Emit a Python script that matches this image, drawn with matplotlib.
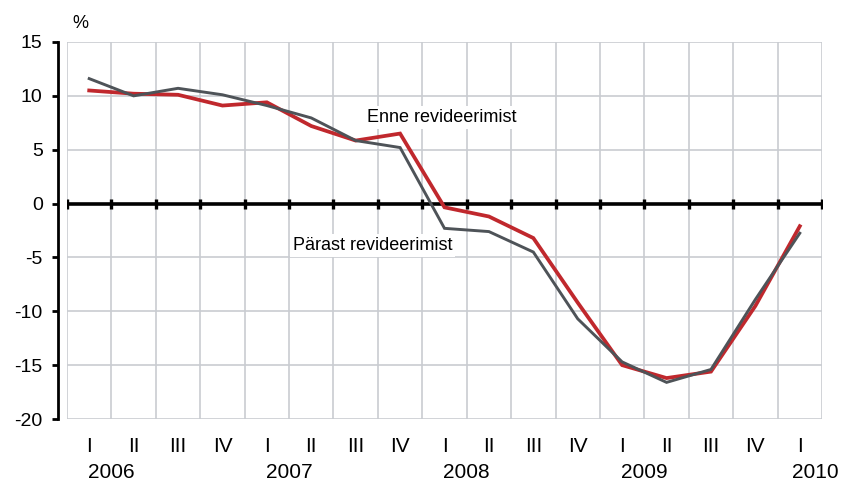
import matplotlib
matplotlib.use('Agg')
import matplotlib.pyplot as plt
from matplotlib.transforms import blended_transform_factory

quarters = ['I', 'II', 'III', 'IV'] * 4 + ['I']
years = ['2006', '2007', '2008', '2009', '2010']
year_pos = [0, 4, 8, 12, 16]
enne = [10.5, 10.2, 10.1, 9.1, 9.4, 7.2, 5.85, 6.5, -0.35, -1.2, -3.2, -9.2,
        -15.0, -16.2, -15.6, -9.5, -2.1]
parast = [11.6, 10.0, 10.7, 10.1, 9.1, 7.95, 5.85, 5.2, -2.3, -2.6, -4.5, -10.7,
          -14.7, -16.6, -15.4, -8.9, -2.75]
yticks = [-20, -15, -10, -5, 0, 5, 10, 15]

RED = '#C0282D'
GREY = '#4E5358'
GRID = '#C9CCD1'
plt.rcParams['font.family'] = ['Liberation Sans', 'DejaVu Sans']

fig = plt.figure(figsize=(8.47, 4.84), dpi=100)
ax = fig.add_axes([67 / 847, 1 - 419 / 484, (822 - 67) / 847, (419 - 42) / 484])

for s in ['top', 'right', 'bottom']:
    ax.spines[s].set_visible(False)
ax.spines['left'].set_position(('outward', 6.5))
ax.spines['left'].set_linewidth(2)

n = len(quarters)
x = list(range(n))
bounds = [i - 0.5 for i in range(n + 1)]
ax.set_xlim(-0.5, n - 0.5)
ax.set_ylim(-20, 15)

ax.set_yticks(yticks)
ax.set_yticklabels([str(v) for v in yticks])
ax.set_xticks(x)
ax.set_xticklabels(quarters)
ax.set_xticks(bounds, minor=True)
ax.tick_params(axis='x', which='both', length=0, pad=13, labelsize=15)
ax.tick_params(axis='y', which='major', direction='out', length=4, width=2, pad=7,
               labelsize=14)

ax.grid(axis='y', color=GRID, lw=1.2)
ax.grid(axis='x', which='minor', color=GRID, lw=1.2)
ax.grid(axis='x', which='major', visible=False)
ax.set_axisbelow(True)

ax.axhline(0, color='black', lw=2.6, zorder=2)
ax.plot(bounds, [0] * len(bounds), linestyle='none', marker='|', ms=6.5, mew=2.4,
        color='black', zorder=2)

ax.plot(x, enne, color=RED, lw=2.7, zorder=3, solid_joinstyle='miter')
ax.plot(x, parast, color=GREY, lw=2.1, zorder=4, solid_joinstyle='miter')

ax.text(7.94, 7.98, 'Enne revideerimist', fontsize=13, ha='center', va='center',
        zorder=5, bbox=dict(facecolor='white', edgecolor='none', pad=2))
ax.text(6.38, -3.9, 'Pärast revideerimist', fontsize=13, ha='center', va='center',
        zorder=5, bbox=dict(facecolor='white', edgecolor='none', pad=2))

tr = blended_transform_factory(ax.transData, ax.transAxes)
for p, yr in zip(year_pos, years):
    off = 0.5 if p < n - 1 else 0.35
    ax.text(p + off, -0.142, yr, transform=tr, ha='center', va='center', fontsize=15)

fig.text(80 / 847, 1 - 23 / 484, '%', ha='center', va='center', fontsize=13)

fig.savefig('out.png', dpi=100)
